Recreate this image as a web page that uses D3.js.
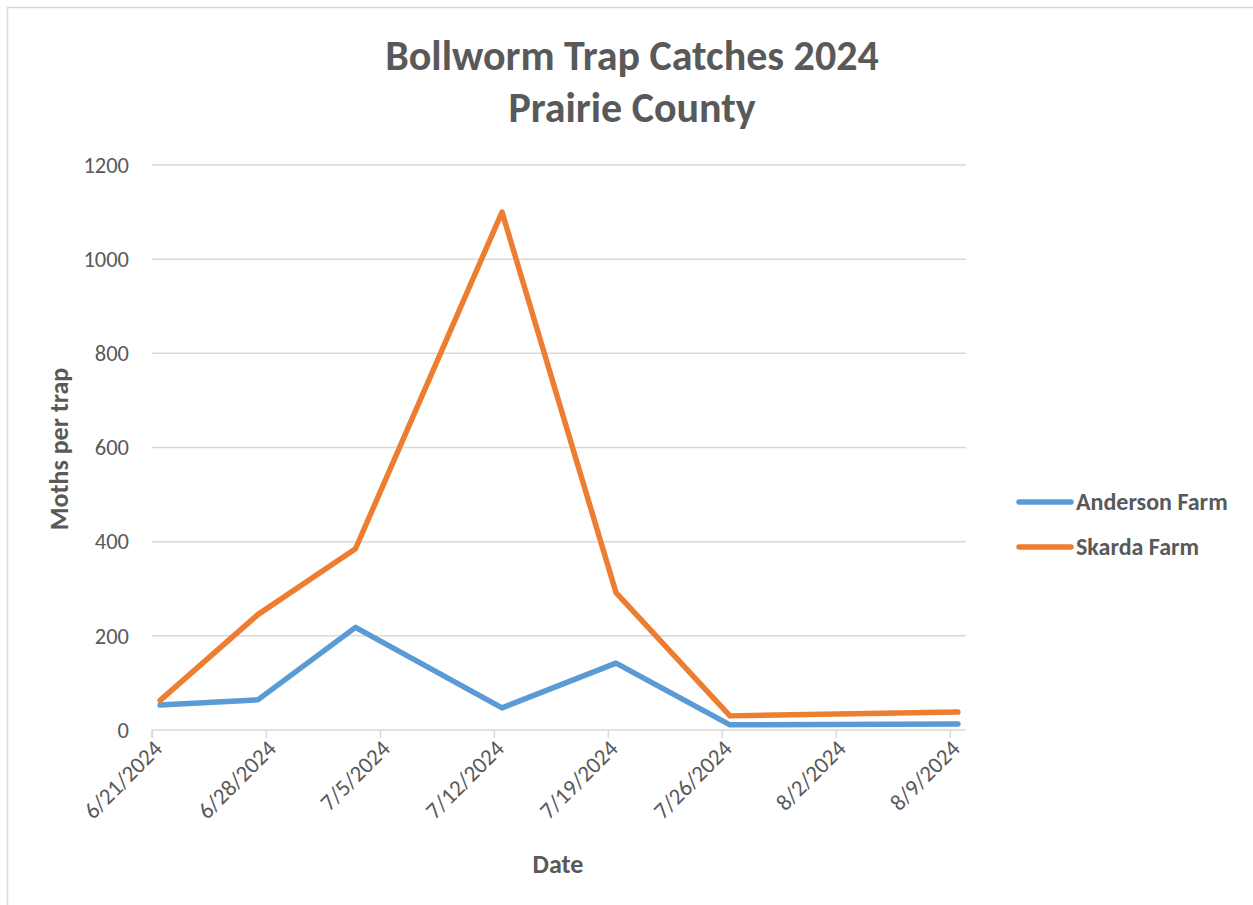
<!DOCTYPE html>
<html>
<head>
<meta charset="utf-8">
<script src="https://cdn.jsdelivr.net/npm/d3@7"></script>
<style>
  html, body { margin: 0; padding: 0; background: #fff; }
  svg { display: block; font-family: Carlito, Lato, "Open Sans", sans-serif; }
</style>
</head>
<body>
<svg id="chart" width="1253" height="905"></svg>
<script>
// Trap check dates and weekly moth counts per trap
const sampleDates = ["2024-06-21", "2024-06-27", "2024-07-03", "2024-07-12", "2024-07-19", "2024-07-26", "2024-08-09"];
const andersonFarm = [53, 64, 218, 47, 142, 11, 13];
const skardaFarm = [63, 245, 385, 1100, 292, 30, 38];

const seriesNames = ["Anderson Farm", "Skarda Farm"];
const seriesColors = ["#5b9bd5", "#ed7d31"];

const yTicks = [0, 200, 400, 600, 800, 1000, 1200];
const xTickLabels = ["6/21/2024", "6/28/2024", "7/5/2024", "7/12/2024", "7/19/2024", "7/26/2024", "8/2/2024", "8/9/2024"];

const parse = d3.utcParse("%Y-%m-%d");
const parseTick = d3.utcParse("%m/%d/%Y");
const DAY = 864e5;

const svg = d3.select("#chart");

// chart-area frame
svg.append("rect")
  .attr("x", 7.5).attr("y", 7.5)
  .attr("width", 1260).attr("height", 910)
  .attr("fill", "none").attr("stroke", "#d9d9d9").attr("stroke-width", 1.5);

const plot = { left: 152, right: 966, top: 165, bottom: 730 };

// date axis: each day is a slot, points sit at the middle of their day
const x = d3.scaleUtc()
  .domain([parse("2024-06-21"), new Date(parse("2024-08-09").getTime() + DAY)])
  .range([plot.left, plot.right]);
const y = d3.scaleLinear().domain([0, 1200]).range([plot.bottom, plot.top]);

const tickDates = xTickLabels.map(parseTick);
const midDay = d => new Date(d.getTime() + DAY / 2);

// horizontal gridlines
svg.append("g")
  .selectAll("line")
  .data(yTicks.filter(t => t > 0))
  .join("line")
  .attr("x1", plot.left).attr("x2", plot.right)
  .attr("y1", d => y(d)).attr("y2", d => y(d))
  .attr("stroke", "#d9d9d9").attr("stroke-width", 1.5);

// y axis labels
const yAxis = d3.axisLeft(y).tickValues(yTicks).tickSize(0).tickPadding(23)
  .tickFormat(d3.format("d"));
svg.append("g")
  .attr("transform", `translate(${plot.left},0)`)
  .call(yAxis)
  .call(g => g.select(".domain").remove())
  .call(g => g.selectAll("text")
    .attr("fill", "#595959")
    .style("font-size", "22.5px")
    .style("font-family", "Carlito, Lato, sans-serif"));

// x axis with weekly ticks
const xAxis = d3.axisBottom(x)
  .tickValues(tickDates)
  .tickSize(8)
  .tickFormat((d, i) => xTickLabels[i]);
const xg = svg.append("g")
  .attr("transform", `translate(0,${plot.bottom})`)
  .call(xAxis);
xg.select(".domain")
  .attr("d", `M${plot.left},8V0H${plot.right}`)
  .attr("stroke", "#d9d9d9").attr("stroke-width", 1.5);
xg.selectAll(".tick line").attr("stroke", "#d9d9d9").attr("stroke-width", 1.5);
xg.selectAll(".tick text")
  .attr("fill", "#595959")
  .style("font-size", "23px")
  .style("font-family", "Carlito, Lato, sans-serif")
  .attr("text-anchor", "end")
  .attr("dy", null)
  .attr("y", 0)
  .attr("transform", "translate(11,20) rotate(-45)");

// series lines
const line = d3.line()
  .x((d, i) => x(midDay(parse(sampleDates[i]))))
  .y(d => y(d));

[andersonFarm, skardaFarm].forEach((vals, k) => {
  svg.append("path")
    .datum(vals)
    .attr("d", line)
    .attr("fill", "none")
    .attr("stroke", seriesColors[k])
    .attr("stroke-width", 5.5)
    .attr("stroke-linejoin", "round")
    .attr("stroke-linecap", "round");
});

// title
const title = svg.append("text")
  .attr("text-anchor", "middle")
  .attr("fill", "#595959")
  .style("font-size", "42px")
  .style("font-weight", "bold");
title.append("tspan").attr("x", 632).attr("y", 70).text("Bollworm Trap Catches 2024");
title.append("tspan").attr("x", 632).attr("y", 122).text("Prairie County");

// axis titles
svg.append("text")
  .attr("transform", `translate(68,449) rotate(-90)`)
  .attr("text-anchor", "middle")
  .attr("fill", "#595959")
  .style("font-size", "26px").style("font-weight", "bold")
  .text("Moths per trap");

svg.append("text")
  .attr("x", 558).attr("y", 873)
  .attr("text-anchor", "middle")
  .attr("fill", "#595959")
  .style("font-size", "26px").style("font-weight", "bold")
  .text("Date");

// legend
const legend = svg.append("g").selectAll("g")
  .data(seriesNames)
  .join("g")
  .attr("transform", (d, i) => `translate(1019,${502 + i * 45})`);
legend.append("line")
  .attr("x1", 0).attr("x2", 52)
  .attr("stroke", (d, i) => seriesColors[i])
  .attr("stroke-width", 5.5)
  .attr("stroke-linecap", "round");
legend.append("text")
  .attr("x", 57).attr("y", 8)
  .attr("fill", "#595959")
  .style("font-size", "24px").style("font-weight", "bold")
  .text(d => d);
</script>
</body>
</html>
